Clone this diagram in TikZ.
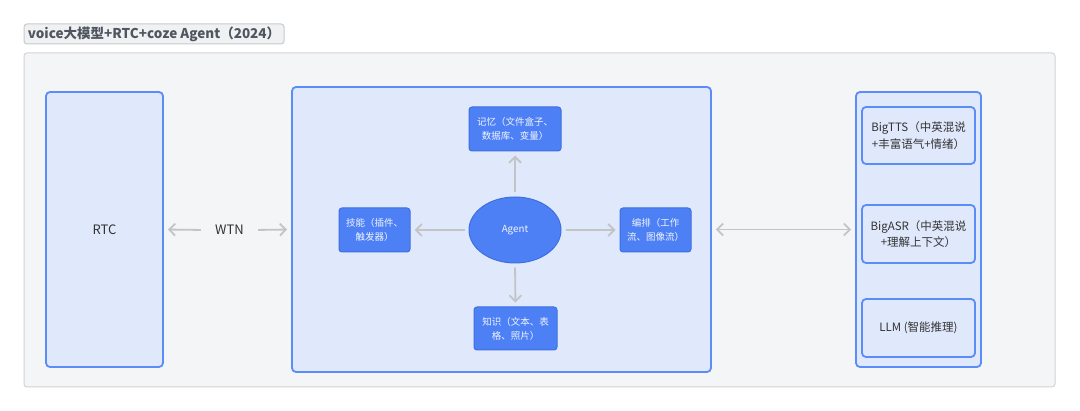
\documentclass[tikz,border=0pt]{standalone}
\usepackage{fontspec}
\setmainfont{Noto Sans CJK SC}
\usetikzlibrary{arrows.meta,shapes.geometric}
\definecolor{pagebg}{HTML}{FFFFFF}
\definecolor{outerfill}{HTML}{F4F5F7}
\definecolor{outerdraw}{HTML}{D2D3D6}
\definecolor{titlefill}{HTML}{F0F1F3}
\definecolor{titledraw}{HTML}{C9CACD}
\definecolor{titletext}{HTML}{4F5660}
\definecolor{lightfill}{HTML}{E0E8FC}
\definecolor{bluedraw}{HTML}{5A8DF7}
\definecolor{bluefill}{HTML}{4E80F5}
\definecolor{bluedark}{HTML}{3E6FE0}
\definecolor{arrowgray}{HTML}{C3C4C6}
\definecolor{darktext}{HTML}{333333}
\tikzset{
  lightbox/.style={draw=bluedraw, fill=lightfill, line width=1.8pt, rounded corners=4pt, inner sep=0pt, text=darktext},
  bluebox/.style={draw=bluedark, fill=bluefill, line width=1pt, rounded corners=3pt, inner sep=0pt, text=white!92!bluefill, align=center, font=\fontsize{9.5}{14}\selectfont},
  subbox/.style={lightbox, align=center, font=\fontsize{11.5}{16.5}\selectfont},
  conn/.style={draw=arrowgray, line width=1.8pt, -{Straight Barb[length=6pt,width=12pt]}, shorten >=4pt, shorten <=4pt},
  conn2/.style={draw=arrowgray, line width=1.8pt, {Straight Barb[length=6pt,width=12pt]}-{Straight Barb[length=6pt,width=12pt]}, shorten >=4pt, shorten <=4pt},
}
\begin{document}
\begin{tikzpicture}[x=1pt,y=-1pt]
\useasboundingbox (0,0) rectangle (1080,411);
\fill[pagebg] (0,0) rectangle (1080,411);
% outer container
\node[draw=outerdraw, fill=outerfill, line width=1pt, rounded corners=3pt, minimum width=1031pt, minimum height=334pt, inner sep=0pt] (outer) at (539.5,220) {};
% title
\node[draw=titledraw, fill=titlefill, line width=1pt, rounded corners=3pt, minimum width=260pt, minimum height=20pt, inner sep=0pt, text=titletext, font=\fontsize{13.5}{16}\selectfont\bfseries] (title) at (154,34) {voice大模型+RTC+coze Agent（2024）};
% RTC
\node[lightbox, minimum width=117pt, minimum height=275pt, font=\fontsize{13}{16}\selectfont] (rtc) at (104.5,229.5) {RTC};
% WTN label
\node[inner sep=0pt, minimum width=49pt, text=darktext, font=\fontsize{13}{16}\selectfont] (wtn) at (229.5,230) {WTN};
% middle container
\node[lightbox, minimum width=419pt, minimum height=285pt] (mid) at (501.5,229.5) {};
% agent and its parts
\node[ellipse, draw=bluedark, fill=bluefill, line width=1pt, minimum width=92pt, minimum height=66pt, inner sep=0pt, text=white!92!bluefill, font=\fontsize{9.8}{12}\selectfont] (agent) at (515,230) {Agent};
\node[bluebox, minimum width=92pt, minimum height=44pt] (mem) at (515,129) {记忆（文件盒子、\\数据库、变量）};
\node[bluebox, minimum width=71pt, minimum height=44pt] (skill) at (374.5,230) {技能（插件、\\触发器）};
\node[bluebox, minimum width=71pt, minimum height=44pt] (flow) at (655.5,230) {编排（工作\\流、图像流）};
\node[bluebox, minimum width=83pt, minimum height=43pt] (know) at (515.5,328.5) {知识（文本、表\\格、照片）};
% right container
\node[lightbox, minimum width=125pt, minimum height=275pt] (right) at (918.5,229.5) {};
\node[subbox, minimum width=113pt, minimum height=57pt] (tts) at (918.5,135.5) {BigTTS（中英混说\\+丰富语气+情绪）};
\node[subbox, minimum width=113pt, minimum height=58pt] (asr) at (918.5,234) {BigASR（中英混说\\+理解上下文）};
\node[subbox, minimum width=113pt, minimum height=58pt] (llm) at (918.5,328) {LLM (智能推理)};
% connectors
\draw[conn] (wtn.west) -- (rtc.east);
\draw[conn] (wtn.east) -- (mid.west);
\draw[conn] (agent.north) -- (mem.south);
\draw[conn] (agent.west) -- (skill.east);
\draw[conn] (agent.east) -- (flow.west);
\draw[conn] (agent.south) -- (know.north);
\draw[conn2] (mid.east) -- (right.west);
\end{tikzpicture}
\end{document}
